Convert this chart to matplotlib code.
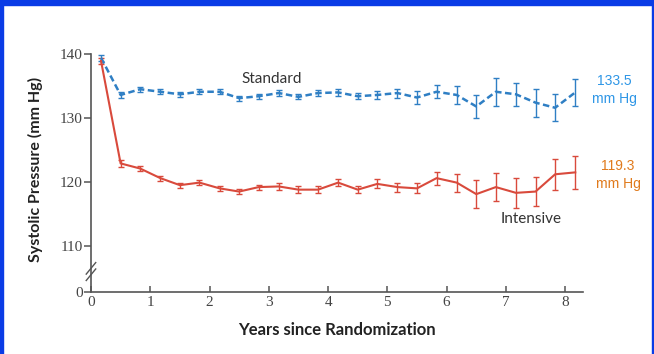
import matplotlib
matplotlib.use("Agg")
import matplotlib.pyplot as plt
from matplotlib.patches import Rectangle

# visit times (years since randomization)
years = [0.17, 0.5, 0.83, 1.17, 1.5, 1.83, 2.17, 2.5, 2.83, 3.17, 3.5, 3.83, 4.17,
         4.5, 4.83, 5.17, 5.5, 5.83, 6.17, 6.5, 6.83, 7.17, 7.5, 7.83, 8.17]

standard = [139.4, 133.6, 134.5, 134.1, 133.7, 134.1, 134.1, 133.1, 133.4, 133.9,
            133.3, 133.9, 134.0, 133.4, 133.6, 133.9, 133.2, 134.1, 133.6, 131.8,
            134.1, 133.7, 132.4, 131.6, 134.0]
standard_err = [0.5, 0.5, 0.4, 0.4, 0.4, 0.4, 0.4, 0.4, 0.4, 0.4, 0.4, 0.5, 0.5,
                0.5, 0.6, 0.7, 1.0, 1.0, 1.4, 1.8, 2.2, 1.8, 2.2, 2.1, 2.1]

intensive = [138.9, 122.9, 122.1, 120.6, 119.5, 119.9, 119.0, 118.5, 119.2, 119.3,
             118.8, 118.8, 119.9, 118.8, 119.7, 119.2, 119.0, 120.6, 119.9, 118.1,
             119.2, 118.3, 118.5, 121.2, 121.5]
intensive_err = [0.4, 0.5, 0.4, 0.4, 0.4, 0.4, 0.4, 0.4, 0.4, 0.5, 0.5, 0.5, 0.6,
                 0.6, 0.7, 0.7, 0.8, 1.0, 1.4, 2.2, 2.2, 2.3, 2.3, 2.4, 2.6]

ytick_vals = [102.8, 110, 120, 130, 140]
ytick_labels = ["0", "110", "120", "130", "140"]
xtick_vals = [0, 1, 2, 3, 4, 5, 6, 7, 8]

blue = "#2f7fc4"
red = "#d94a3c"
axis_gray = "#555555"

fig = plt.figure(figsize=(6.54, 3.54), dpi=100)

# slide frame
fig.patches.append(Rectangle((0, 0.986), 1, 0.014, transform=fig.transFigure,
                             color="#0a3ce6", zorder=0))
fig.patches.append(Rectangle((0, 0), 0.004, 1, transform=fig.transFigure,
                             color="#0a3ce6", zorder=0))
fig.patches.append(Rectangle((0.997, 0), 0.003, 1, transform=fig.transFigure,
                             color="#0a3ce6", zorder=0))

ax = fig.add_axes([0.1391, 0.1751, 0.7523, 0.6904])

ax.errorbar(years, standard, yerr=standard_err, color=blue, lw=1.8,
            linestyle=(0, (2.6, 1.4)), elinewidth=1.0, capsize=2, capthick=1.0,
            zorder=3)
ax.errorbar(years, intensive, yerr=intensive_err, color=red, lw=1.5,
            elinewidth=1.0, capsize=2, capthick=1.0, zorder=3)

ax.set_xlim(0, 8.3)
ax.set_ylim(102.8, 141)

for s in ["top", "right"]:
    ax.spines[s].set_visible(False)
for s in ["left", "bottom"]:
    ax.spines[s].set_color(axis_gray)
    ax.spines[s].set_linewidth(1.2)
ax.spines["left"].set_bounds(102.8, 140)

ax.set_yticks(ytick_vals)
ax.set_yticklabels(ytick_labels)
ax.set_xticks(xtick_vals)
ax.tick_params(axis="y", direction="out", length=5, width=1.1, color=axis_gray,
               labelsize=11, labelcolor="#444444", pad=1)
ax.tick_params(axis="x", direction="in", length=4, width=1.1, color=axis_gray,
               labelsize=11, labelcolor="#444444", pad=3)
for lab in ax.get_xticklabels() + ax.get_yticklabels():
    lab.set_family("Liberation Serif")

# axis break marks
for dy in (-0.5, 0.5):
    ax.plot([-0.08, 0.08], [106.0 + dy - 0.9, 106.0 + dy + 0.9], color=axis_gray,
            lw=1.0, clip_on=False, zorder=4)

ax.set_ylabel("Systolic Pressure (mm Hg)", fontsize=11.5, fontweight="bold",
              family="Lato", color="#222222", labelpad=12)
ax.set_xlabel("Years since Randomization", fontsize=12, fontweight="bold",
              family="Lato", color="#222222", labelpad=9)

ax.text(3.05, 135.0, "Standard", fontsize=11, family="Lato", color="#333333",
        ha="center", va="bottom")
ax.text(7.42, 114.2, "Intensive", fontsize=11, family="Lato", color="#333333",
        ha="center", va="center")

fig.text(614 / 654, 1 - 90 / 354, "133.5\nmm Hg", fontsize=10, color="#2e96e6",
         family="Liberation Sans", ha="center", va="center", linespacing=1.3)
fig.text(618 / 654, 1 - 175 / 354, "119.3\nmm Hg", fontsize=10, color="#e07a1c",
         family="Liberation Sans", ha="center", va="center", linespacing=1.4)

fig.savefig("out.png", dpi=100)
